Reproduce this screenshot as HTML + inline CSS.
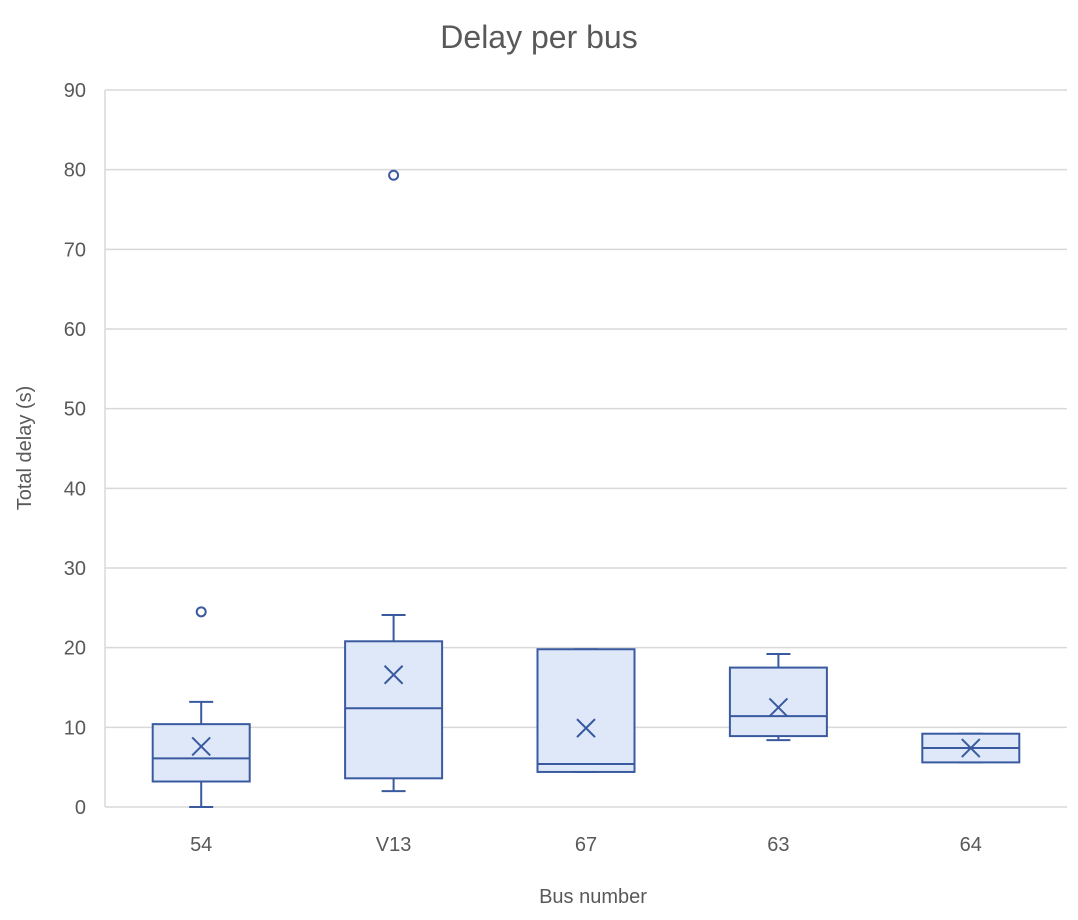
<!DOCTYPE html>
<html><head><meta charset="utf-8"><style>
body{margin:0;background:#fff;}
svg{display:block;font-family:"Liberation Sans",sans-serif;}
</style></head><body>
<svg id="chart" width="1078" height="920">
<rect x="0" y="0" width="1078" height="920" fill="#fff"/>
<text x="539" y="48" text-anchor="middle" font-size="32" fill="#595959">Delay per bus</text>
<g id="grid"></g><g id="marks"></g><g id="labels"></g>
<text x="593" y="903" text-anchor="middle" font-size="20" fill="#595959">Bus number</text>
<text transform="translate(31,448) rotate(-90)" text-anchor="middle" font-size="20" fill="#595959">Total delay (s)</text>
</svg>
<script>
const categories=["54","V13","67","63","64"];
const whiskerLow=[0,2,4.4,8.4,5.6];
const q1=[3.2,3.6,4.4,8.9,5.6];
const median=[6.1,12.4,5.4,11.4,7.4];
const q3=[10.4,20.8,19.8,17.5,9.2];
const whiskerHigh=[13.2,24.1,19.8,19.2,9.2];
const means=[7.6,16.6,9.9,12.5,7.4];
const outliers=[[24.5],[79.3],[],[],[]];
const yTicks=[0,10,20,30,40,50,60,70,80,90];
const NS="http://www.w3.org/2000/svg";
const plotLeft=105,plotRight=1067,plotTop=90,plotBottom=807,yMax=90;
const yScale=v=>plotBottom-(v/yMax)*(plotBottom-plotTop);
const band=(plotRight-plotLeft)/categories.length;
const xScale=i=>plotLeft+band*(i+0.5);
const bw=97;
function mk(tag,attrs,parent){const e=document.createElementNS(NS,tag);for(const k in attrs)e.setAttribute(k,attrs[k]);parent.appendChild(e);return e;}
const gridG=document.getElementById('grid'),marksG=document.getElementById('marks'),labelsG=document.getElementById('labels');
yTicks.forEach(t=>{
 const l=mk('line',{x1:plotLeft,x2:plotRight,y1:yScale(t),y2:yScale(t),stroke:'#d9d9d9','stroke-width':1.5},gridG);
 
 
 const tx=mk('text',{x:86,y:yScale(t)+7,'text-anchor':'end','font-size':20,fill:'#595959'},labelsG);
 tx.textContent=t;
 
 
});
const ax=mk('line',{x1:plotLeft,x2:plotLeft,y1:plotTop,y2:plotBottom,stroke:'#d9d9d9','stroke-width':1.5},gridG);


const C='#3a5aa0';
categories.forEach((c,i)=>{
 const cx=xScale(i);
 const g=mk('g',{},marksG);
 
 
 mk('line',{x1:cx,x2:cx,y1:yScale(whiskerLow[i]),y2:yScale(q1[i]),stroke:C,'stroke-width':2},g);
 mk('line',{x1:cx,x2:cx,y1:yScale(q3[i]),y2:yScale(whiskerHigh[i]),stroke:C,'stroke-width':2},g);
 mk('line',{x1:cx-12,x2:cx+12,y1:yScale(whiskerLow[i]),y2:yScale(whiskerLow[i]),stroke:C,'stroke-width':2},g);
 mk('line',{x1:cx-12,x2:cx+12,y1:yScale(whiskerHigh[i]),y2:yScale(whiskerHigh[i]),stroke:C,'stroke-width':2},g);
 mk('rect',{x:cx-bw/2,y:yScale(q3[i]),width:bw,height:yScale(q1[i])-yScale(q3[i]),fill:'#dee8f8',stroke:C,'stroke-width':2},g);
 mk('line',{x1:cx-bw/2,x2:cx+bw/2,y1:yScale(median[i]),y2:yScale(median[i]),stroke:C,'stroke-width':2},g);
 const my=yScale(means[i]);
 mk('path',{d:`M${cx-9} ${my-9}L${cx+9} ${my+9}M${cx+9} ${my-9}L${cx-9} ${my+9}`,stroke:C,'stroke-width':2,fill:'none'},g);
 outliers[i].forEach(o=>{
  const p=mk('circle',{cx:cx,cy:yScale(o),r:4.5,fill:'#fff',stroke:C,'stroke-width':2},g);
  
  
 });
 const t=mk('text',{x:cx,y:851,'text-anchor':'middle','font-size':20,fill:'#595959'},labelsG);
 t.textContent=c;
 
 
});
</script>
</body></html>
